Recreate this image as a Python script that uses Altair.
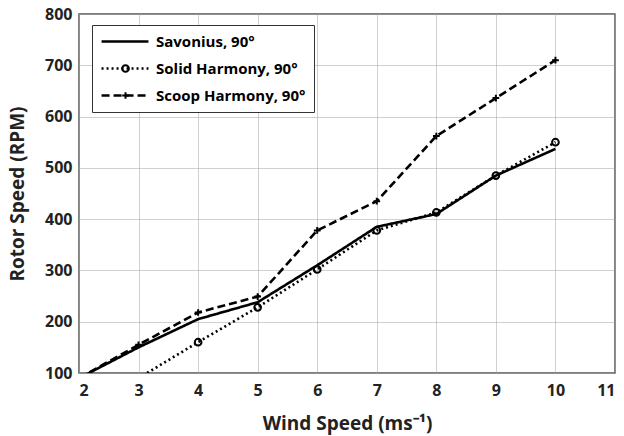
import altair as alt
import pandas as pd

names = ["Savonius, 90°", "Solid Harmony, 90°", "Scoop Harmony, 90°"]

wind_sav = [2, 3, 4, 5, 6, 7, 8, 9, 10]
savonius = [90, 150, 205, 238, 310, 385, 410, 485, 537]

wind_solid = [3, 4, 5, 6, 7, 8, 9, 10]
solid_harmony = [90, 160, 228, 302, 378, 413, 485, 550]

wind_scoop = [2, 3, 4, 5, 6, 7, 8, 9, 10]
scoop_harmony = [90, 155, 218, 249, 378, 435, 562, 636, 710]

x_ticks = [2, 3, 4, 5, 6, 7, 8, 9, 10, 11]
y_ticks = [100, 200, 300, 400, 500, 600, 700, 800]

rows = []
for w, v in zip(wind_sav, savonius):
    rows.append({"wind": w, "rpm": v, "series": names[0]})
for w, v in zip(wind_solid, solid_harmony):
    rows.append({"wind": w, "rpm": v, "series": names[1]})
for w, v in zip(wind_scoop, scoop_harmony):
    rows.append({"wind": w, "rpm": v, "series": names[2]})
df = pd.DataFrame(rows)
df_pts = df[df["series"] != names[0]]

FONT = "Open Sans"

x_enc = alt.X(
    "wind:Q",
    scale=alt.Scale(domain=[2, 11], nice=False, zero=False),
    axis=alt.Axis(
        values=x_ticks, title="Wind Speed (ms⁻¹)", format="d",
        labelFontSize=16, labelFontWeight="bold", labelFont=FONT, labelColor="#222",
        labelPadding=9, titleFont=FONT, titleFontSize=19, titleFontWeight="bold",
        titleColor="#222", titlePadding=16, ticks=False, domain=False,
        grid=True, gridDash=[1, 1], gridColor="#a0a0a0", gridWidth=1,
    ),
)
y_enc = alt.Y(
    "rpm:Q",
    scale=alt.Scale(domain=[100, 800], nice=False, zero=False),
    axis=alt.Axis(
        values=y_ticks, title="Rotor Speed (RPM)", format="d",
        labelFontSize=16, labelFontWeight="bold", labelFont=FONT, labelColor="#222",
        labelPadding=7, titleFont=FONT, titleFontSize=19, titleFontWeight="bold",
        titleColor="#222", titlePadding=17, ticks=False, domain=False,
        grid=True, gridDash=[1, 1], gridColor="#a0a0a0", gridWidth=1,
    ),
)

lines = alt.Chart(df).mark_line(color="black", strokeWidth=2.6, clip=True).encode(
    x=x_enc,
    y=y_enc,
    strokeDash=alt.StrokeDash(
        "series:N",
        scale=alt.Scale(domain=names, range=[[1, 0], [2, 3], [8, 4]]),
        legend=alt.Legend(
            orient="none", legendX=13, legendY=11, title=None,
            fillColor="white", strokeColor="#333", padding=8,
            symbolType="stroke", symbolSize=2200, symbolStrokeWidth=2.6,
            symbolStrokeColor="black", labelFont=FONT, labelFontSize=15,
            labelFontWeight="bold", labelColor="black", rowPadding=10,
            clipHeight=17, labelOffset=6, labelLimit=300,
        ),
    ),
)

points = alt.Chart(df_pts).mark_point(
    color="black", filled=False, strokeWidth=2, size=45, opacity=1, clip=True
).encode(
    x="wind:Q",
    y="rpm:Q",
    shape=alt.Shape(
        "series:N",
        scale=alt.Scale(
            domain=names,
            range=["M0,0", "circle", "M-1,0L1,0M0,-1L0,1"],
        ),
        legend=alt.Legend(
            orient="none", legendX=31, legendY=11, title=None,
            padding=8, symbolSize=45, symbolStrokeWidth=2, symbolOpacity=1,
            symbolStrokeColor="black", symbolFillColor="white",
            labelExpr="''", labelFontSize=15, rowPadding=10, clipHeight=17,
            labelOffset=0,
        ),
    ),
)

chart = (
    alt.layer(lines, points)
    .resolve_legend(strokeDash="independent", shape="independent")
    .properties(
        width=536, height=359,
        padding={"left": 79, "top": 14, "right": 9, "bottom": 63},
        autosize=alt.AutoSizeParams(type="none"),
        background="white",
    )
    .configure_view(stroke="#555", strokeWidth=1.5)
)

chart.save("out.html", embed_options={"renderer": "svg", "actions": False})
